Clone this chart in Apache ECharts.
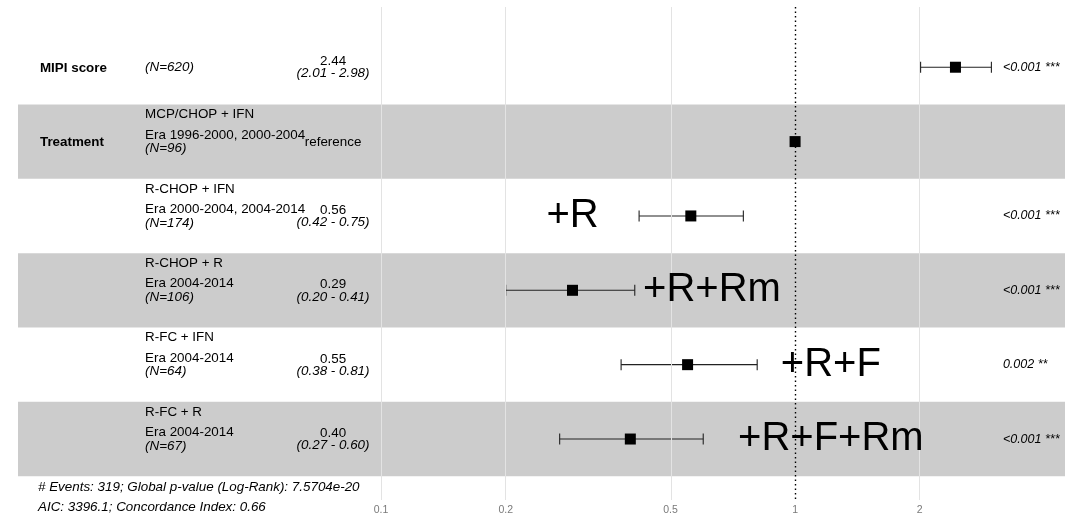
<!DOCTYPE html>
<html><head><meta charset="utf-8">
<script src="https://cdn.jsdelivr.net/npm/echarts@6/dist/echarts.min.js"></script>
<style>html,body{margin:0;padding:0;background:#fff}#c{width:1088px;height:517px}</style>
</head><body><div id="c"></div>
<script>
// ---- data ----
const variables = ['MIPI score', 'Treatment', '', '', '', ''];
const levelNames = ['', 'MCP/CHOP + IFN', 'R-CHOP + IFN', 'R-CHOP + R', 'R-FC + IFN', 'R-FC + R'];
const levelEras = ['', 'Era 1996-2000, 2000-2004', 'Era 2000-2004, 2004-2014', 'Era 2004-2014', 'Era 2004-2014', 'Era 2004-2014'];
const nCounts = [620, 96, 174, 106, 64, 67];
const hazardRatios = [2.44, 1, 0.56, 0.29, 0.55, 0.40];
const ciLower = [2.01, null, 0.42, 0.20, 0.38, 0.27];
const ciUpper = [2.98, null, 0.75, 0.41, 0.81, 0.60];
const pValues = ['<0.001 ***', '', '<0.001 ***', '<0.001 ***', '0.002 **', '<0.001 ***'];
const isReference = [false, true, false, false, false, false];
const annotationTexts = ['+R', '+R+Rm', '+R+F', '+R+F+Rm'];
const annotationRows = [2, 3, 4, 5];
const annotationHR = [0.29, 0.63, 1.22, 1.22];
const tickValues = [0.1, 0.2, 0.5, 1, 2];
const footerLines = ['# Events: 319; Global p-value (Log-Rank): 7.5704e-20', 'AIC: 3396.1; Concordance Index: 0.66'];

// ---- layout helpers ----
const lg = Math.log10;
const X_MIN = -1.877, X_MAX = 0.652;
const COL_VAR = -1.824, COL_LEVEL = -1.570, COL_EST = -1.116, COL_P = 0.502;
const FONT = '"Liberation Sans", Arial, Helvetica, sans-serif';
const FS = 13.4;
const rowIdx = hazardRatios.map((_, i) => i);

function txt(x, y, text, opts) {
  opts = opts || {};
  return {
    type: 'text', x: x, y: y,
    style: {
      text: text,
      fill: opts.fill || '#000',
      fontFamily: FONT,
      fontSize: opts.size || FS,
      fontStyle: opts.italic ? 'italic' : 'normal',
      fontWeight: opts.bold ? 'bold' : 'normal',
      align: opts.align || 'left',
      verticalAlign: 'middle'
    }
  };
}

const chart = echarts.init(document.getElementById('c'), null, {renderer: 'canvas'});
const option = {
  backgroundColor: '#fff',
  animation: false,
  grid: {left: 18, right: 23, top: 7, bottom: 17, containLabel: false},
  xAxis: {
    type: 'value', min: X_MIN, max: X_MAX,
    axisLine: {show: false}, axisTick: {show: false}, splitLine: {show: false},
    axisLabel: {
      customValues: tickValues.map(lg),
      margin: 5,
      color: '#7a7a7a', fontSize: 10.5, fontFamily: FONT,
      formatter: v => String(Math.round(Math.pow(10, v) * 100) / 100)
    }
  },
  yAxis: {
    type: 'value', min: -0.31, max: 6.32, inverse: true, show: false
  },
  graphic: footerLines.map((t, k) => ({
    type: 'text', x: 38, y: 487 + k * 20,
    style: {text: t, fill: '#000', fontFamily: FONT, fontSize: FS, fontStyle: 'italic', verticalAlign: 'middle'}
  })),
  series: [
    { // gridlines
      type: 'scatter', data: [], z: 1, silent: true,
      markLine: {
        silent: true, symbol: 'none', label: {show: false}, animation: false,
        lineStyle: {color: '#e3e3e3', width: 1, type: 'solid'},
        data: tickValues.filter(v => v !== 1).map(v => ({xAxis: lg(v)}))
      }
    },
    { // alternating bands
      type: 'custom', z: 2, silent: true, clip: false,
      data: rowIdx.filter(i => i % 2 === 1).map(i => [X_MIN, i]),
      renderItem: function (params, api) {
        const i = api.value(1);
        const p0 = api.coord([X_MIN, i]);
        const p1 = api.coord([X_MAX, i + 1]);
        return {type: 'rect', shape: {x: p0[0], y: p0[1], width: p1[0] - p0[0], height: p1[1] - p0[1]},
          style: {fill: 'rgba(0,0,0,0.2)'}};
      }
    },
    { // reference line at 1
      type: 'scatter', data: [], z: 3, silent: true,
      markLine: {
        silent: true, symbol: 'none', label: {show: false}, animation: false,
        lineStyle: {color: '#000', width: 1.4, type: [1.5, 3]},
        data: [{xAxis: lg(1)}]
      }
    },
    { // confidence intervals
      type: 'custom', z: 4, silent: true, clip: false,
      data: rowIdx.filter(i => ciLower[i] != null).map(i => [lg(ciLower[i]), lg(ciUpper[i]), i + 0.5]),
      renderItem: function (params, api) {
        const a = api.coord([api.value(0), api.value(2)]);
        const b = api.coord([api.value(1), api.value(2)]);
        const h = 5.5;
        const st = {stroke: '#222', lineWidth: 1.1};
        return {type: 'group', children: [
          {type: 'line', shape: {x1: a[0], y1: a[1], x2: b[0], y2: b[1]}, style: st},
          {type: 'line', shape: {x1: a[0], y1: a[1] - h, x2: a[0], y2: a[1] + h}, style: st},
          {type: 'line', shape: {x1: b[0], y1: b[1] - h, x2: b[0], y2: b[1] + h}, style: st}
        ]};
      }
    },
    { // point estimates
      type: 'scatter', z: 5, silent: true,
      symbol: 'rect', symbolSize: 11,
      itemStyle: {color: '#000', opacity: 1},
      data: rowIdx.map(i => [lg(hazardRatios[i]), i + 0.5])
    },
    { // table text
      type: 'custom', z: 6, silent: true, clip: false,
      data: rowIdx.map(i => [0, i + 0.5, i]),
      renderItem: function (params, api) {
        const i = api.value(2);
        const c = api.coord([0, i + 0.5])[1];
        const xv = api.coord([COL_VAR, 0])[0];
        const xl = api.coord([COL_LEVEL, 0])[0];
        const xe = api.coord([COL_EST, 0])[0];
        const xp = api.coord([COL_P, 0])[0];
        const ch = [];
        if (variables[i]) ch.push(txt(xv, c + 0.7, variables[i], {bold: true}));
        const nTxt = '(N=' + nCounts[i] + ')';
        if (levelNames[i]) {
          ch.push(txt(xl, c - 27, levelNames[i]));
          ch.push(txt(xl, c - 6.5, levelEras[i]));
          ch.push(txt(xl, c + 7, nTxt, {italic: true}));
        } else {
          ch.push(txt(xl, c + 0.5, nTxt, {italic: true}));
        }
        if (isReference[i]) {
          ch.push(txt(xe, c + 1, 'reference', {align: 'center'}));
        } else {
          ch.push(txt(xe, c - 5.5, hazardRatios[i].toFixed(2), {align: 'center'}));
          ch.push(txt(xe, c + 6.5, '(' + ciLower[i].toFixed(2) + ' - ' + ciUpper[i].toFixed(2) + ')', {align: 'center', italic: true}));
        }
        if (pValues[i]) ch.push(txt(xp, c, pValues[i], {italic: true, size: 12.5}));
        return {type: 'group', children: ch};
      }
    },
    { // large annotations
      type: 'custom', z: 7, silent: true, clip: false,
      data: annotationTexts.map((t, k) => [lg(annotationHR[k]), annotationRows[k] + 0.5, k]),
      renderItem: function (params, api) {
        const k = api.value(2);
        const p = api.coord([api.value(0), api.value(1)]);
        return txt(p[0], p[1], annotationTexts[k], {size: 40, align: 'center'});
      }
    }
  ]
};
chart.setOption(option);
</script>
</body></html>
